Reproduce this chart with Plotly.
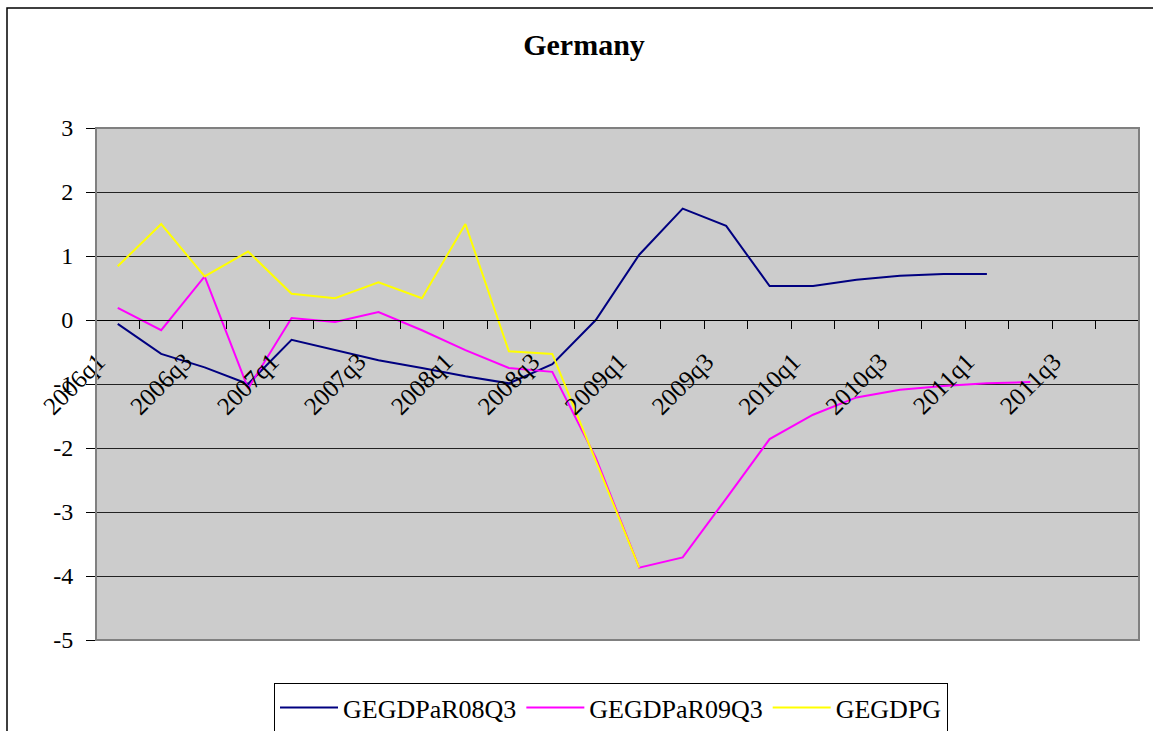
import plotly.graph_objects as go

quarters = [f"{y}q{q}" for y in range(2006, 2012) for q in range(1, 5)]
tick_labels = quarters[::2]
y_ticks = [-5, -4, -3, -2, -1, 0, 1, 2, 3]
y_tick_text = ["-5", "-4", "-3", "-2", "-1", "0", "1", "2", "3"]

gegdpar08q3 = [-0.06, -0.53, -0.74, -1.0, -0.31, -0.47, -0.63, -0.75, -0.88, -0.99,
               -0.69, 0.0, 1.02, 1.74, 1.47, 0.53, 0.53, 0.63, 0.69, 0.72, 0.72]
gegdpar09q3 = [0.19, -0.16, 0.68, -1.07, 0.03, -0.03, 0.125, -0.16, -0.47, -0.75,
               -0.81, -2.15, -3.87, -3.71, -2.79, -1.86, -1.48, -1.21, -1.09, -1.03,
               -0.99, -0.97]
gegdpg = [0.84, 1.50, 0.68, 1.07, 0.41, 0.34, 0.59, 0.34, 1.50, -0.49, -0.53, -2.2, -3.87]

series = [
    ("GEGDPaR08Q3", gegdpar08q3, "#000080"),
    ("GEGDPaR09Q3", gegdpar09q3, "#FF00FF"),
    ("GEGDPG", gegdpg, "#FFFF00"),
]

FONT = "Liberation Serif, Times New Roman, serif"
W, H = 1153, 731
L, R, T, B = 96, 1153 - 1139, 128, 731 - 640
pw, ph = W - L - R, H - T - B

fig = go.Figure()
for name, vals, col in series:
    fig.add_trace(go.Scatter(x=quarters[:len(vals)], y=vals, name=name, mode="lines",
                             line=dict(color=col, width=2)))
# helper trace for the tick-mark axis
fig.add_trace(go.Scatter(x=quarters, y=[None] * len(quarters), xaxis="x2",
                         showlegend=False, hoverinfo="skip", mode="lines"))

zero_pos = (0 - (-5)) / 8.0

fig.update_layout(
    width=W, height=H,
    margin=dict(l=L, r=R, t=T, b=B, autoexpand=False),
    paper_bgcolor="white",
    plot_bgcolor="#CCCCCC",
    font=dict(family=FONT, size=24, color="black"),
    title=dict(text="<b>Germany</b>", font=dict(family=FONT, size=30, color="black"),
               x=584 / W, xanchor="center", xref="container",
               y=1 - 44 / H, yanchor="middle", yref="container"),
    xaxis=dict(type="category", categoryorder="array", categoryarray=quarters,
               range=[-0.5, 23.5], anchor="free", position=zero_pos,
               tickvals=tick_labels, ticktext=tick_labels, tickangle=-45,
               ticks="", showgrid=False, showline=True, linecolor="black", linewidth=1,
               tickfont=dict(family=FONT, size=25, color="black"), zeroline=False,
               ticklabelshift=-20, ticklabelstandoff=16),
    xaxis2=dict(type="category", categoryorder="array", categoryarray=quarters,
                range=[-0.5, 23.5], overlaying="x", anchor="free", position=zero_pos,
                tickson="boundaries", ticks="outside", ticklen=8, tickcolor="black",
                tickwidth=1, showticklabels=False, showgrid=False, showline=False,
                zeroline=False),
    yaxis=dict(range=[-5, 3], tickvals=y_ticks, ticktext=y_tick_text,
               showgrid=True, gridcolor="#222222",
               gridwidth=1, zeroline=False, showline=True, linecolor="black", linewidth=1,
               ticks="outside", ticklen=9, tickcolor="black",
               tickfont=dict(family=FONT, size=24, color="black"),
               ticklabelstandoff=8),
    legend=dict(orientation="h", x=(274 - L) / pw, xanchor="left",
                y=(640 - 683) / ph, yanchor="top",
                bgcolor="white", bordercolor="black", borderwidth=1,
                font=dict(family=FONT, size=26, color="black"),
                itemwidth=58),
    shapes=[
        dict(type="rect", xref="paper", yref="paper", x0=0, x1=1, y0=0, y1=1,
             line=dict(color="#808080", width=2), layer="above"),
        dict(type="rect", xref="paper", yref="paper",
             x0=(7 - L) / pw, x1=1.3, y0=-0.5, y1=(640 - 8) / ph,
             line=dict(color="black", width=1.5)),
    ],
    showlegend=True,
)

fig.write_html("out.html", config={"displayModeBar": False},
               post_script="document.body.style.margin='0px';")
